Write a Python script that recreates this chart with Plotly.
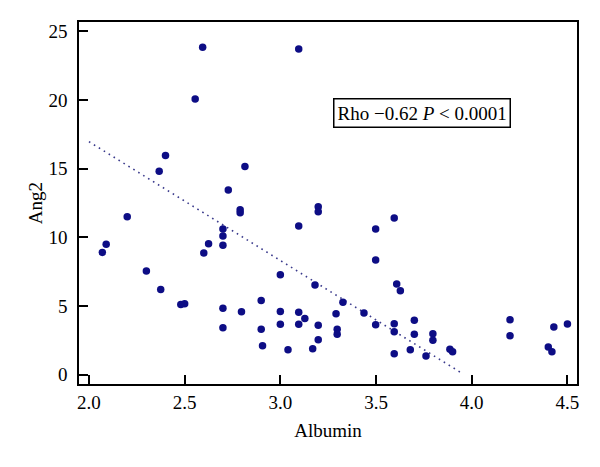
import plotly.graph_objects as go

# Albumin (x) values
albumin = [2.07, 2.09, 2.20, 2.30, 2.375, 2.367, 2.40, 2.48, 2.50, 2.555, 2.594, 2.60, 2.625,
           2.70, 2.70, 2.70, 2.70, 2.70, 2.728, 2.79, 2.79, 2.797, 2.815,
           2.90, 2.90, 2.907, 3.00, 3.00, 3.00, 3.04,
           3.096, 3.096, 3.096, 3.096, 3.128, 3.169, 3.181,
           3.198, 3.198, 3.198, 3.198, 3.291, 3.297, 3.297, 3.327, 3.437,
           3.498, 3.498, 3.498, 3.595, 3.608, 3.595, 3.595, 3.595, 3.627, 3.679,
           3.70, 3.70, 3.761, 3.797, 3.797, 3.886, 3.90,
           4.20, 4.20, 4.40, 4.419, 4.429, 4.50]

# Ang2 (y) values
ang2 = [8.9, 9.5, 11.5, 7.55, 6.2, 14.8, 15.95, 5.1, 5.17, 20.07, 23.83, 8.86, 9.53,
        10.6, 10.1, 9.42, 4.83, 3.42, 13.45, 12.0, 11.78, 4.58, 15.15,
        5.39, 3.30, 2.11, 7.28, 4.59, 3.67, 1.82,
        23.7, 10.82, 4.54, 3.67, 4.08, 1.89, 6.53,
        12.23, 11.86, 3.60, 2.55, 4.44, 3.30, 2.94, 5.27, 4.49,
        10.6, 8.35, 3.64, 11.4, 6.6, 3.71, 3.13, 1.53, 6.11, 1.82,
        3.96, 2.94, 1.36, 2.98, 2.50, 1.85, 1.67,
        4.00, 2.84, 2.02, 1.67, 3.47, 3.69]

# Regression line end points
fit_x = [2.0, 3.955]
fit_y = [16.96, 0.05]

x_ticks = [2.0, 2.5, 3.0, 3.5, 4.0, 4.5]
y_ticks = [0, 5, 10, 15, 20, 25]

FONT = "Liberation Serif"
FS = 19
NAVY = "#0d0d85"

fig = go.Figure()
fig.add_trace(go.Scatter(
    x=fit_x, y=fit_y, mode="lines",
    line=dict(color="#3a3a8c", width=1.6, dash="1.6px,4.2px"),
    hoverinfo="skip", showlegend=False))
fig.add_trace(go.Scatter(
    x=albumin, y=ang2, mode="markers",
    marker=dict(size=7.5, color=NAVY, line=dict(width=0)),
    showlegend=False))

fig.add_annotation(
    x=3.742, y=19.08, xref="x", yref="y",
    text="Rho \u22120.62 <i>P</i> &lt; 0.0001",
    showarrow=False,
    font=dict(family=FONT, size=FS, color="black"),
    bordercolor="black", borderwidth=1.5, borderpad=3,
    bgcolor="white")

axis_common = dict(
    showline=True, linecolor="black", linewidth=1.5, mirror=True,
    ticks="inside", ticklen=9, tickwidth=1.5, tickcolor="black",
    showgrid=False, zeroline=False, automargin=False,
    tickfont=dict(family=FONT, size=FS, color="black"),
)

fig.update_xaxes(range=[1.948, 4.550], tickvals=x_ticks,
                 ticktext=[f"{v:.1f}" for v in x_ticks],
                 ticklabelstandoff=0,
                 title=dict(text="Albumin", font=dict(family=FONT, size=FS, color="black"), standoff=12),
                 **axis_common)
fig.update_yaxes(range=[-0.68, 25.67], tickvals=y_ticks,
                 ticktext=[str(v) for v in y_ticks],
                 ticklabelstandoff=6,
                 title=dict(text="Ang2", font=dict(family=FONT, size=FS, color="black"), standoff=1),
                 **axis_common)

# page body has an 8px margin, so the figure is sized to fit the window
fig.update_layout(
    width=584, height=451,
    margin=dict(l=71, r=15, t=14, b=75),
    paper_bgcolor="white", plot_bgcolor="white",
    font=dict(family=FONT, size=FS, color="black"),
)

fig.write_html("out.html")
